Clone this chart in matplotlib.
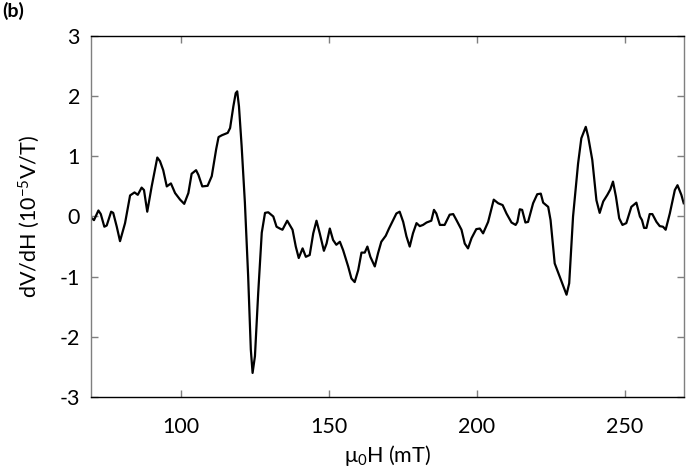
import matplotlib
matplotlib.use("Agg")
import matplotlib.pyplot as plt

# field (mT) and dV/dH (1e-5 V/T)
field = [69.6, 70.6, 72.1, 72.9, 74.1, 74.9, 76.4, 77.1, 78.3, 79.4, 81.1, 82.8, 84.3, 85.4,
         86.7, 87.5, 88.6, 90.1, 92.0, 92.9, 94.0, 95.2, 96.6, 98.0, 99.7, 101.1, 102.5,
         103.6, 105.1, 105.9, 107.2, 109.0, 110.4, 111.9, 112.7, 113.8, 115.8, 116.6, 117.7,
         118.5, 119.0, 119.6, 120.5, 121.6, 122.7, 123.6, 124.2, 125.0, 126.1, 127.3, 128.4,
         129.5, 131.2, 132.3, 133.4, 134.3, 135.9, 137.7, 138.8, 139.8, 141.1, 142.2, 143.5,
         144.7, 145.8, 146.9, 148.3, 149.2, 150.3, 151.4, 152.5, 153.7, 154.8, 156.5, 157.6,
         158.7, 159.9, 161.0, 162.1, 163.0, 164.0, 165.5, 166.6, 167.7, 169.2, 170.3, 171.7,
         172.8, 173.9, 175.1, 176.2, 177.3, 178.4, 179.6, 180.7, 181.8, 183.0, 184.6, 185.5,
         186.3, 187.5, 189.1, 190.8, 192.0, 193.1, 194.8, 195.9, 197.0, 198.2, 199.8, 201.0,
         202.1, 203.8, 205.7, 207.2, 208.7, 210.0, 211.7, 213.1, 213.7, 214.5, 215.3, 216.4,
         217.3, 219.0, 220.4, 221.6, 222.4, 224.1, 224.9, 226.3, 228.0, 230.3, 231.2, 232.5,
         234.2, 235.3, 236.8, 237.6, 239.0, 240.4, 241.5, 242.7, 244.1, 245.1, 246.0, 247.0,
         248.1, 249.2, 250.5, 252.2, 253.9, 255.1, 255.8, 256.5, 257.3, 258.4, 259.3, 260.7,
         261.8, 262.9, 263.8, 265.2, 266.9, 267.8, 269.1, 269.9]
signal = [-0.02, -0.06, 0.10, 0.04, -0.17, -0.15, 0.08, 0.06, -0.17, -0.41, -0.11, 0.35, 0.40,
          0.36, 0.48, 0.44, 0.08, 0.50, 0.98, 0.92, 0.77, 0.50, 0.55, 0.39, 0.28, 0.21, 0.39,
          0.71, 0.77, 0.69, 0.50, 0.51, 0.67, 1.12, 1.32, 1.35, 1.39, 1.47, 1.83, 2.05, 2.08,
          1.83, 1.17, 0.23, -0.99, -2.21, -2.60, -2.32, -1.27, -0.27, 0.06, 0.07, 0.00, -0.17,
          -0.20, -0.22, -0.07, -0.22, -0.50, -0.69, -0.53, -0.67, -0.64, -0.28, -0.07, -0.28,
          -0.57, -0.45, -0.20, -0.39, -0.47, -0.42, -0.56, -0.83, -1.03, -1.09, -0.89, -0.60,
          -0.60, -0.50, -0.67, -0.83, -0.61, -0.42, -0.32, -0.20, -0.06, 0.05, 0.08, -0.09,
          -0.33, -0.50, -0.28, -0.11, -0.16, -0.14, -0.10, -0.07, 0.11, 0.05, -0.14, -0.14,
          0.03, 0.04, -0.06, -0.22, -0.45, -0.53, -0.36, -0.21, -0.20, -0.28, -0.09, 0.28,
          0.22, 0.19, 0.05, -0.10, -0.14, -0.09, 0.12, 0.11, -0.10, -0.09, 0.22, 0.37, 0.38,
          0.23, 0.16, -0.06, -0.78, -1.00, -1.30, -1.11, 0.00, 0.88, 1.30, 1.49, 1.33, 0.94,
          0.27, 0.06, 0.25, 0.36, 0.45, 0.58, 0.33, -0.03, -0.14, -0.11, 0.16, 0.23, 0.00,
          -0.06, -0.19, -0.19, 0.04, 0.04, -0.09, -0.16, -0.17, -0.22, 0.05, 0.44, 0.52, 0.36,
          0.22]

x_ticks = [100, 150, 200, 250]
y_ticks = [-3, -2, -1, 0, 1, 2, 3]

plt.rcParams['font.family'] = ['Lato', 'DejaVu Sans']
plt.rcParams['mathtext.fontset'] = 'custom'
plt.rcParams['mathtext.rm'] = 'Lato'
plt.rcParams['mathtext.it'] = 'Lato'
plt.rcParams['axes.unicode_minus'] = False

fig = plt.figure(figsize=(6.88, 4.68), dpi=100)
ax = fig.add_axes([0.1323, 0.1517, 0.8619, 0.7714])

ax.plot(field, signal, color='black', lw=1.6)

ax.set_xlim(69.6, 270)
ax.set_ylim(-3, 3)
ax.set_xticks(x_ticks)
ax.set_yticks(y_ticks)
ax.set_yticklabels([str(v) for v in y_ticks])

grey = '#7f7f7f'
ax.spines['left'].set_color(grey)
ax.spines['right'].set_color(grey)
ax.spines['top'].set_color('black')
ax.spines['bottom'].set_color('black')
for s in ax.spines.values():
    s.set_linewidth(1.0)

ax.tick_params(axis='both', direction='in', length=5, width=1, color=grey,
               labelsize=15.5, top=True, right=True)
ax.tick_params(axis='x', pad=14.5)
ax.tick_params(axis='y', pad=8)

ax.set_xlabel(r'$\mathrm{\mu_0}$H (mT)', fontsize=15.5, va='center')
ax.set_ylabel(r'dV/dH (10$^{\mathrm{-5}}$V/T)', fontsize=15.5, va='center')
ax.xaxis.set_label_coords(0.5, -0.162)
ax.yaxis.set_label_coords(-0.104, 0.5)

fig.text(0.003, 0.995, '(b)', fontsize=14, fontweight='bold', va='top', ha='left')

fig.savefig('out.png', dpi=100)
